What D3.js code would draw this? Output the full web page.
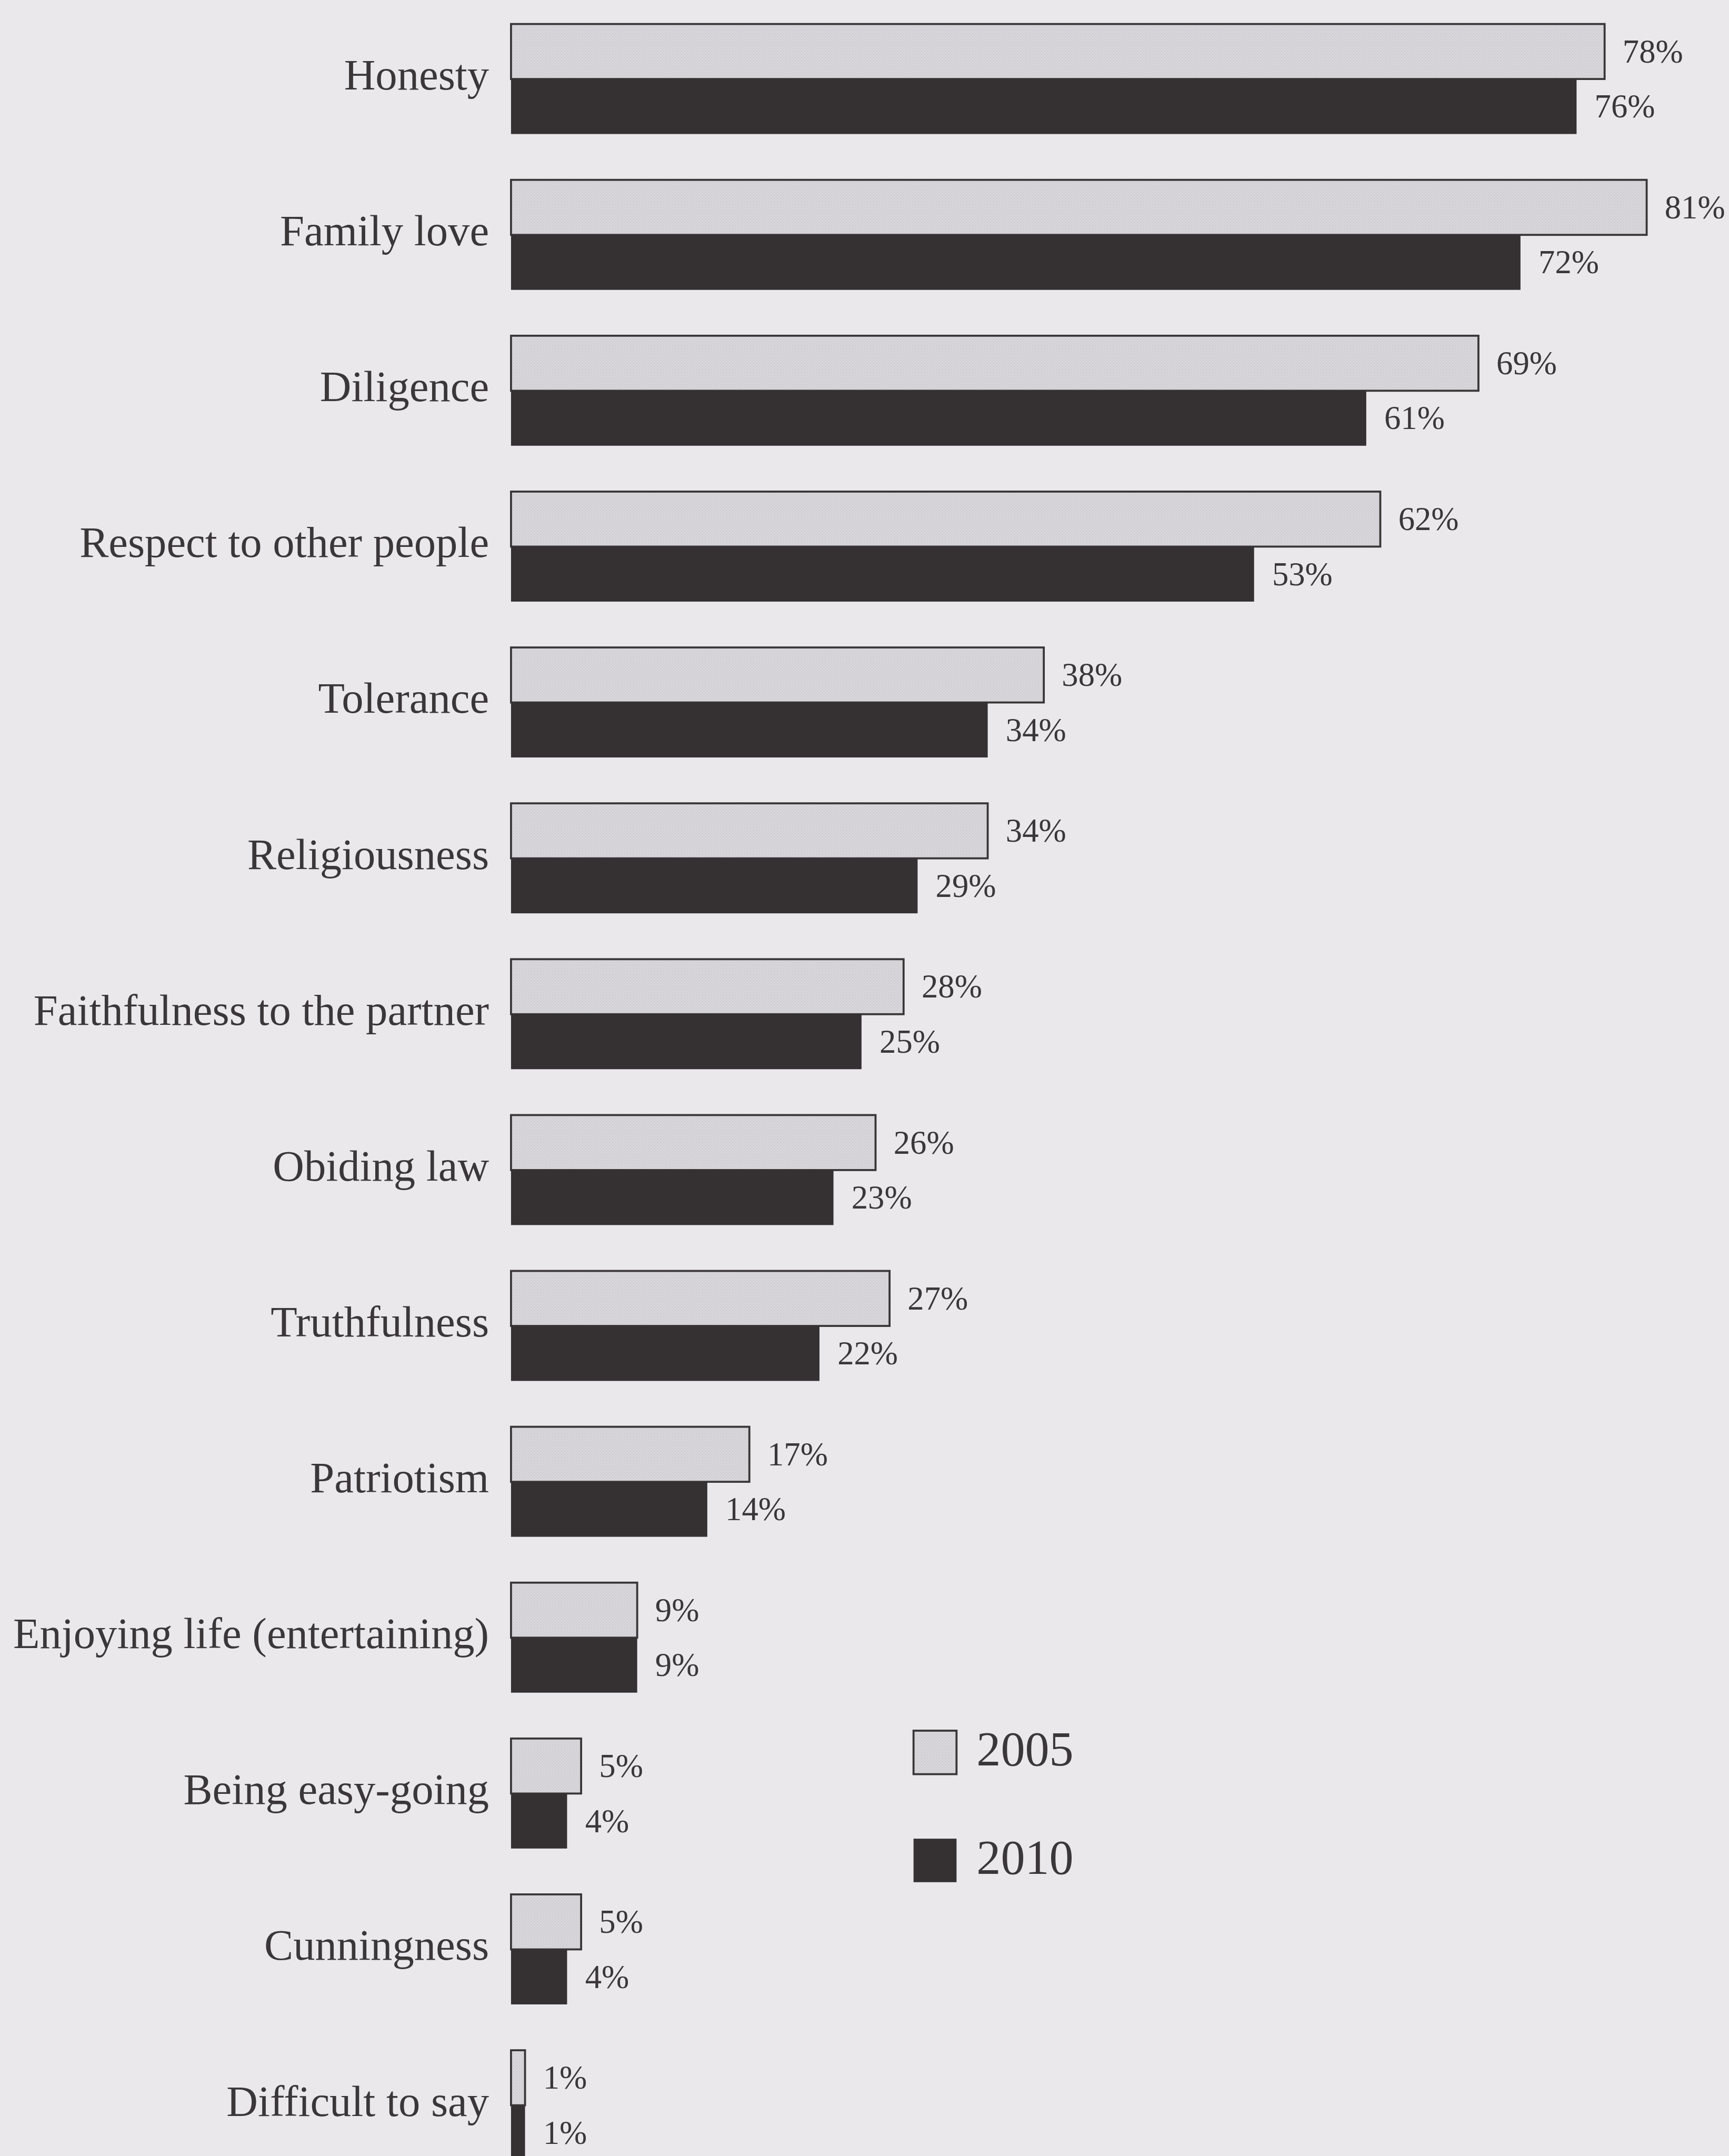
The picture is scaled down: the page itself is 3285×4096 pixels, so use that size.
<!DOCTYPE html>
<html lang="en">
<head>
<meta charset="utf-8">
<title>Values</title>
<script src="https://cdn.jsdelivr.net/npm/d3@7"></script>
<style>
    body { margin: 0; background: #ebe8ec; }
    text { font-family: "Liberation Serif", serif; fill: #3b3739; }
</style>
</head>
<body>
<script>
    // data
    var categories = ["Honesty", "Family love", "Diligence", "Respect to other people", "Tolerance",
        "Religiousness", "Faithfulness to the partner", "Obiding law", "Truthfulness", "Patriotism",
        "Enjoying life (entertaining)", "Being easy-going", "Cunningness", "Difficult to say"];
    var values2005 = [78, 81, 69, 62, 38, 34, 28, 26, 27, 17, 9, 5, 5, 1];
    var values2010 = [76, 72, 61, 53, 34, 29, 25, 23, 22, 14, 9, 4, 4, 1];
    var seriesNames = ["2005", "2010"];

    var W = 3455, H = 4308, k = 0.95;

    var svg = d3.select("body").append("svg")
        .attr("width", 3285)
        .attr("height", 4096);

    svg.append("rect").attr("width", 3285).attr("height", 4096).attr("fill", "#ebe8ec");

    // stipple for the light bars
    var defs = svg.append("defs");
    var pat = defs.append("pattern")
        .attr("id", "dots")
        .attr("patternUnits", "userSpaceOnUse")
        .attr("width", 6).attr("height", 6);
    pat.append("rect").attr("width", 6).attr("height", 6).attr("fill", "#d8d6da");
    pat.append("rect").attr("x", 0).attr("y", 0).attr("width", 2).attr("height", 2).attr("fill", "#c9c7cb");
    pat.append("rect").attr("x", 3).attr("y", 3).attr("width", 2).attr("height", 2).attr("fill", "#cdcbcf");

    var g = svg.append("g").attr("transform", "scale(" + k + ")");

    var x = d3.scaleLinear().domain([0, 100]).range([1022, 1022 + 2804]);

    var y = d3.scaleBand()
        .domain(categories)
        .range([48, 48 + 13 * 311.7 + 220])
        .paddingInner(91.7 / 311.7)
        .paddingOuter(0);

    var ys = d3.scaleBand().domain(seriesNames).range([0, y.bandwidth()]);

    var rows = categories.map(function(c, i) {
        return { cat: c, vals: [values2005[i], values2010[i]] };
    });

    var groups = g.selectAll("g.row")
        .data(rows)
        .enter().append("g")
        .attr("class", "row")
        .attr("transform", function(d) { return "translate(0," + y(d.cat) + ")"; });

    // category names
    groups.append("text")
        .attr("x", 978)
        .attr("y", y.bandwidth() / 2 + 21)
        .attr("text-anchor", "end")
        .attr("font-size", 87)
        .text(function(d) { return d.cat; });

    var bars = groups.selectAll("g.bar")
        .data(function(d) {
            return seriesNames.map(function(s, j) { return { s: s, v: d.vals[j] }; });
        })
        .enter().append("g")
        .attr("class", "bar");

    // dark 2010 bar first, light 2005 bar with outline on top
    bars.filter(function(d) { return d.s === "2010"; })
        .append("rect")
        .attr("x", x(0))
        .attr("y", ys("2010"))
        .attr("width", function(d) { return x(d.v) - x(0); })
        .attr("height", ys.bandwidth())
        .attr("fill", "#353133");

    bars.filter(function(d) { return d.s === "2005"; })
        .append("rect")
        .attr("x", x(0))
        .attr("y", ys("2005"))
        .attr("width", function(d) { return x(d.v) - x(0); })
        .attr("height", ys.bandwidth())
        .attr("fill", "url(#dots)")
        .attr("stroke", "#3a3638")
        .attr("stroke-width", 4);

    bars.append("text")
        .attr("x", function(d) { return x(d.v) + 36; })
        .attr("y", function(d) { return ys(d.s) + ys.bandwidth() / 2 + 22; })
        .attr("font-size", 66)
        .text(function(d) { return d.v + "%"; });

    // legend
    var legend = g.append("g").attr("class", "legend");
    var ly = d3.scalePoint().domain(seriesNames).range([3461, 3677]);

    legend.selectAll("rect")
        .data(seriesNames)
        .enter().append("rect")
        .attr("x", 1827)
        .attr("y", function(d) { return ly(d); })
        .attr("width", 86)
        .attr("height", 87)
        .attr("fill", function(d) { return d === "2005" ? "url(#dots)" : "#353133"; })
        .attr("stroke", function(d) { return d === "2005" ? "#3a3638" : "none"; })
        .attr("stroke-width", 4);

    legend.selectAll("text")
        .data(seriesNames)
        .enter().append("text")
        .attr("x", 1953)
        .attr("y", function(d) { return ly(d) + 70; })
        .attr("font-size", 97)
        .text(function(d) { return d; });
</script>
</body>
</html>
